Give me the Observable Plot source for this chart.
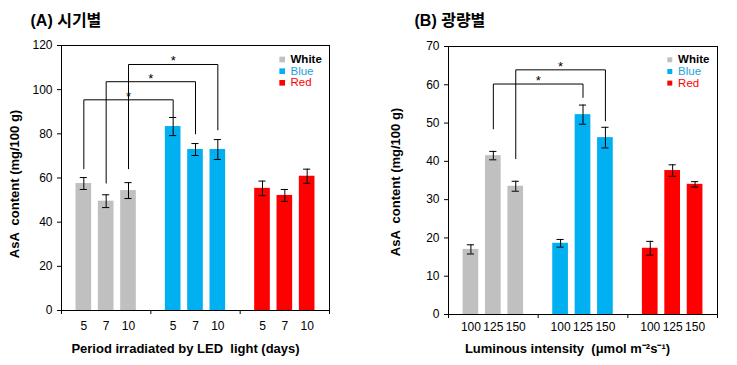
<!DOCTYPE html>
<html><head><meta charset="utf-8">
<script src="https://cdn.jsdelivr.net/npm/d3@7"></script>
<script src="https://cdn.jsdelivr.net/npm/@observablehq/plot@0.6"></script>
<style>
body{margin:0;background:#fff;}
#wrap{position:relative;width:737px;height:365px;background:#fff;}
#wrap svg{position:absolute;top:0;}
</style></head><body><div id="wrap"></div>
<script>
// Shared
const lightGroups = ["White", "Blue", "Red"];
const groupColors = ["#c0c0c0", "#00b0f0", "#ff0000"];
const legendTextColors = ["#000000", "#1c9fdc", "#ff0000"];
const legendWeights = ["bold", "normal", "normal"];

// Panel A: by period (days)
const periodLabels = ["5", "7", "10"];
const periodWhite = [57.5, 49.5, 54.3];
const periodBlue = [83.3, 72.9, 72.9];
const periodRed = [55.3, 52.1, 60.8];
const periodWhiteErr = [2.7, 2.9, 3.6];
const periodBlueErr = [4.1, 2.7, 4.5];
const periodRedErr = [3.3, 2.7, 3.2];
const periodBracketFrom = [0, 1, 2];   // White bar index
const periodBracketTo = [0, 1, 2];     // Blue bar index
const periodBracketLegFrom = [64.2, 57.7, 64.2];
const periodBracketTop = [95.4, 103.6, 111.4];
const periodBracketLegTo = [87.5, 80.0, 81.8];
const periodYTicks = [0, 20, 40, 60, 80, 100, 120];

// Panel B: by light intensity
const intensityLabels = ["100", "125", "150"];
const intensityWhite = [17.0, 41.5, 33.5];
const intensityBlue = [18.6, 52.2, 46.2];
const intensityRed = [17.3, 37.6, 34.0];
const intensityWhiteErr = [1.2, 1.1, 1.3];
const intensityBlueErr = [1.0, 2.5, 2.7];
const intensityRedErr = [1.8, 1.5, 0.7];
const intensityBracketFrom = [1, 2];
const intensityBracketTo = [1, 2];
const intensityBracketLegFrom = [48.5, 40.7];
const intensityBracketTop = [60.2, 63.9];
const intensityBracketLegTo = [56.7, 50.6];
const intensityYTicks = [0, 10, 20, 30, 40, 50, 60, 70];

const FONT = "'Liberation Sans', Arial, 'Noto Sans CJK KR', sans-serif";
const SLOTS = 4;

function makePanel(c) {
  const rows = [];
  c.series.forEach((vals, g) => vals.forEach((v, i) => rows.push({
    pos: g * SLOTS + i + 1, label: c.labels[i], value: v, err: c.errs[g][i], color: groupColors[g]
  })));
  const posOf = (g, i) => g * SLOTS + i + 1;
  const labelOf = new Map(rows.map(d => [d.pos, d.label]));
  const pts = [], stars = [];
  c.bFrom.forEach((f, k) => {
    const x1 = posOf(0, f), x2 = posOf(1, c.bTo[k]);
    pts.push({id: k, x: x1, y: c.bLegFrom[k]}, {id: k, x: x1, y: c.bTop[k]},
             {id: k, x: x2, y: c.bTop[k]}, {id: k, x: x2, y: c.bLegTo[k]});
    stars.push({x: (x1 + x2) / 2, y: c.bTop[k]});
  });
  const legend = lightGroups.flatMap((name, k) => [
    Plot.dot([name], {frameAnchor: "top-left", dx: c.legDx, dy: c.legDy[k], symbol: "square", r: c.legR, fill: groupColors[k]}),
    Plot.text([name], {frameAnchor: "top-left", dx: c.legTextDx, dy: c.legDy[k], text: d => d, textAnchor: "start",
      lineAnchor: "middle", fontSize: 11.5, fill: legendTextColors[k], fontWeight: legendWeights[k]})
  ]);
  return Plot.plot({
    width: c.width, height: 365,
    marginLeft: c.ml, marginRight: c.mr, marginTop: c.mt, marginBottom: c.mb,
    style: {fontFamily: FONT, fontSize: "12px", background: "white", overflow: "visible"},
    x: {domain: [0, lightGroups.length * SLOTS]},
    y: {domain: [0, c.yMax]},
    color: {type: "identity"},
    marks: [
      Plot.rectY(rows, {x1: d => d.pos - 0.35, x2: d => d.pos + 0.35, y1: 0, y2: "value", fill: "color"}),
      Plot.ruleX(rows, {x: "pos", y1: d => d.value - d.err, y2: d => d.value + d.err, stroke: "black"}),
      Plot.ruleY(rows, {y: d => d.value + d.err, x1: d => d.pos - 0.16, x2: d => d.pos + 0.16, stroke: "black"}),
      Plot.ruleY(rows, {y: d => d.value - d.err, x1: d => d.pos - 0.16, x2: d => d.pos + 0.16, stroke: "black"}),
      Plot.line(pts, {x: "x", y: "y", z: "id", stroke: "black", strokeWidth: 1, curve: "linear"}),
      Plot.text(stars, {x: "x", y: "y", text: () => "*", lineAnchor: "bottom", fontSize: 13, dy: 1}),
      Plot.frame({stroke: "black"}),
      Plot.axisY({ticks: c.yTicks, tickSize: 4, tickPadding: 5, label: null, fontSize: 12}),
      Plot.axisX({ticks: rows.map(d => d.pos), tickSize: 0, tickPadding: c.xPad, tickFormat: d => labelOf.get(d), label: null, fontSize: 12}),
      Plot.axisX({ticks: d3.range(0, lightGroups.length * SLOTS + 1, SLOTS), tickSize: 4, tickFormat: () => "", label: null}),
      Plot.text([c.yTitle], {frameAnchor: "left", rotate: -90, dx: c.yTitleDx, dy: c.yTitleDy, text: d => d,
        fontSize: 13, fontWeight: "bold", lineAnchor: "middle", textAnchor: "middle"}),
      Plot.text([c.xTitle], {frameAnchor: "bottom", dx: c.xTitleDx, dy: c.xTitleDy, text: d => d,
        fontSize: 13, fontWeight: "bold", lineAnchor: "middle", textAnchor: "middle"}),
      Plot.text([c.title], {frameAnchor: "top-left", dx: c.titleDx, dy: c.titleDy, text: d => d,
        fontSize: 16, fontWeight: "bold", textAnchor: "start", lineAnchor: "bottom"}),
      ...legend
    ]
  });
}

const wrap = document.getElementById("wrap");
const svgA = makePanel({
  series: [periodWhite, periodBlue, periodRed],
  errs: [periodWhiteErr, periodBlueErr, periodRedErr],
  labels: periodLabels,
  bFrom: periodBracketFrom, bTo: periodBracketTo, bLegFrom: periodBracketLegFrom, bTop: periodBracketTop, bLegTo: periodBracketLegTo,
  yMax: 120, yTicks: periodYTicks,
  width: 369, ml: 61, mr: 40, mt: 45, mb: 55, xPad: 11,
  title: "(A) 시기별", titleDx: -31, titleDy: -20,
  xTitle: "Period irradiated by LED  light (days)", xTitleDx: -10, xTitleDy: 38,
  yTitle: "AsA  content (mg/100 g)", yTitleDx: -47, yTitleDy: 6,
  legDx: 220.7, legTextDx: 229, legDy: [14, 25.7, 37.3], legR: 3.2
});
const svgB = makePanel({
  series: [intensityWhite, intensityBlue, intensityRed],
  errs: [intensityWhiteErr, intensityBlueErr, intensityRedErr],
  labels: intensityLabels,
  bFrom: intensityBracketFrom, bTo: intensityBracketTo, bLegFrom: intensityBracketLegFrom, bTop: intensityBracketTop, bLegTo: intensityBracketLegTo,
  yMax: 70, yTicks: intensityYTicks,
  width: 368, ml: 79, mr: 20, mt: 46, mb: 51, xPad: 8,
  title: "(B) 광량별", titleDx: -34, titleDy: -21,
  xTitle: "Luminous intensity  (μmol m⁻²s⁻¹)", xTitleDx: -15.5, xTitleDy: 34,
  yTitle: "AsA  content (mg/100 g)", yTitleDx: -52.7, yTitleDy: 1.5,
  legDx: 221.3, legTextDx: 229.6, legDy: [13.3, 25, 36.6], legR: 2.8
});
svgA.style.left = "0px";
svgB.style.left = "369px";
wrap.appendChild(svgA);
wrap.appendChild(svgB);
</script></body></html>
